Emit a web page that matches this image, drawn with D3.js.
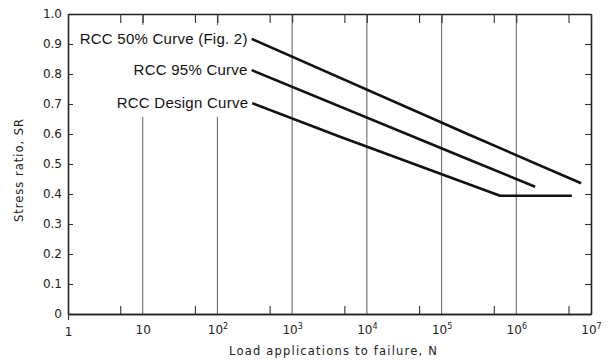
<!DOCTYPE html>
<html>
<head>
<meta charset="utf-8">
<script src="https://cdn.jsdelivr.net/npm/d3@7"></script>
<style>
  html, body { margin: 0; padding: 0; background: #fff; }
  svg { display: block; }
  .tick text { font-family: "DejaVu Sans", sans-serif; }
</style>
</head>
<body>
<svg id="chart" width="609" height="363"></svg>
<script>
// Fatigue curves for RCC: stress ratio vs. load applications (log N, SR)
const curve50 = [[2.459, 0.917], [5.355, 0.599], [6.868, 0.436]];
const curve95 = [[2.459, 0.813], [5.355, 0.516], [6.252, 0.424]];
const curveDesign = [[2.466, 0.703], [3.641, 0.591], [5.783, 0.394], [6.743, 0.394]];
const curveNames = ["RCC 50% Curve (Fig. 2)", "RCC 95% Curve", "RCC Design Curve"];
const yTicks = [0, 0.1, 0.2, 0.3, 0.4, 0.5, 0.6, 0.7, 0.8, 0.9, 1.0];
const xDecades = [0, 1, 2, 3, 4, 5, 6, 7];   // exponents of 10
const xMinorMult = 5;

const svg = d3.select("#chart");
const x = d3.scaleLog().domain([1, 1e7]).range([68, 591]);
const y = d3.scaleLinear().domain([0, 1]).range([314, 14]);

const majors = xDecades.map(e => Math.pow(10, e));
const minors = xDecades.slice(0, -1).map(e => xMinorMult * Math.pow(10, e));

// vertical grid lines at each inner decade
svg.append("g").selectAll("line")
  .data(majors.filter(v => v > 1 && v < 1e7))
  .join("line")
  .attr("x1", d => x(d)).attr("x2", d => x(d))
  .attr("y1", y(0)).attr("y2", y(1))
  .attr("stroke", "#6a6a6a").attr("stroke-width", 1.1);

// white panel that keeps the curve labels clear of the grid
svg.append("rect")
  .attr("x", 75).attr("y", 25).attr("width", 176).attr("height", 92)
  .attr("fill", "#fff");

function styleAxis(g) {
  g.selectAll(".domain").attr("stroke", "#222").attr("stroke-width", 1.6);
  g.selectAll(".tick line").attr("stroke", "#333").attr("stroke-width", 1.1);
}

// left axis
svg.append("g").attr("transform", `translate(${x(1)},0)`)
  .call(d3.axisLeft(y).tickValues(yTicks).tickSize(-5).tickSizeOuter(0).tickPadding(6)
    .tickFormat(d => d === 0 ? "0" : d3.format(".1f")(d)))
  .call(styleAxis)
  .call(g => g.selectAll(".tick text").attr("font-size", 12).attr("fill", "#222"));

// right axis
svg.append("g").attr("transform", `translate(${x(1e7)},0)`)
  .call(d3.axisRight(y).tickValues(yTicks.slice(1, -1)).tickSize(-6).tickSizeOuter(0).tickFormat(""))
  .call(styleAxis);

// top axis
svg.append("g").attr("transform", `translate(0,${y(1)})`)
  .call(d3.axisTop(x).tickValues(majors.concat(minors)).tickSize(-9).tickSizeOuter(0).tickFormat(""))
  .call(styleAxis);

// bottom axis: minor ticks
svg.append("g").attr("transform", `translate(0,${y(0)})`)
  .call(d3.axisBottom(x).tickValues(minors).tickSize(-8).tickSizeOuter(0).tickFormat(""))
  .call(styleAxis);

// bottom axis: decade labels
const xAxis = svg.append("g").attr("transform", `translate(0,${y(0)})`)
  .call(d3.axisBottom(x).tickValues(majors).tickSize(6).tickSizeOuter(0).tickFormat(""))
  .call(styleAxis);
xAxis.selectAll(".tick line").attr("y2", d => d === 1 ? 6 : 0);
xAxis.selectAll(".tick").each(function(d, i) {
  const e = xDecades[i];
  const t = d3.select(this).append("text")
    .attr("y", 20).attr("fill", "#222").attr("font-size", 12)
    .attr("text-anchor", "middle");
  if (e === 0) { t.attr("y", 22).text("1"); return; }
  if (e === 1) { t.text("10"); return; }
  t.append("tspan").text("10");
  t.append("tspan").attr("font-size", 8).attr("dy", -5).text(String(e));
});

// curves
const line = d3.line().x(d => x(Math.pow(10, d[0]))).y(d => y(d[1]));
[curve50, curve95, curveDesign].forEach(c => {
  svg.append("path").attr("d", line(c))
    .attr("fill", "none").attr("stroke", "#111").attr("stroke-width", 2.6)
    .attr("stroke-linejoin", "round");
});

// curve labels, right-aligned at the start of each curve
[curve50, curve95, curveDesign].forEach((c, i) => {
  svg.append("text")
    .attr("x", x(Math.pow(10, c[0][0])) - 4)
    .attr("y", y(c[0][1]) + 5)
    .attr("text-anchor", "end")
    .attr("font-family", "Liberation Sans, Arial, sans-serif")
    .attr("font-size", 15).attr("letter-spacing", 0.25).attr("fill", "#111")
    .text(curveNames[i]);
});

// axis titles
svg.append("text")
  .attr("x", (x(1) + x(1e7)) / 2 + 4).attr("y", 355)
  .attr("text-anchor", "middle")
  .attr("font-family", "DejaVu Sans, sans-serif").attr("font-size", 11.5)
  .attr("letter-spacing", 1.2).attr("fill", "#222")
  .text("Load applications to failure, N");

svg.append("text")
  .attr("transform", `translate(23,${(y(0) + y(1)) / 2 + 6}) rotate(-90)`)
  .attr("text-anchor", "middle")
  .attr("font-family", "DejaVu Sans, sans-serif").attr("font-size", 11.5)
  .attr("letter-spacing", 1).attr("fill", "#222")
  .text("Stress ratio, SR");
</script>
</body>
</html>
